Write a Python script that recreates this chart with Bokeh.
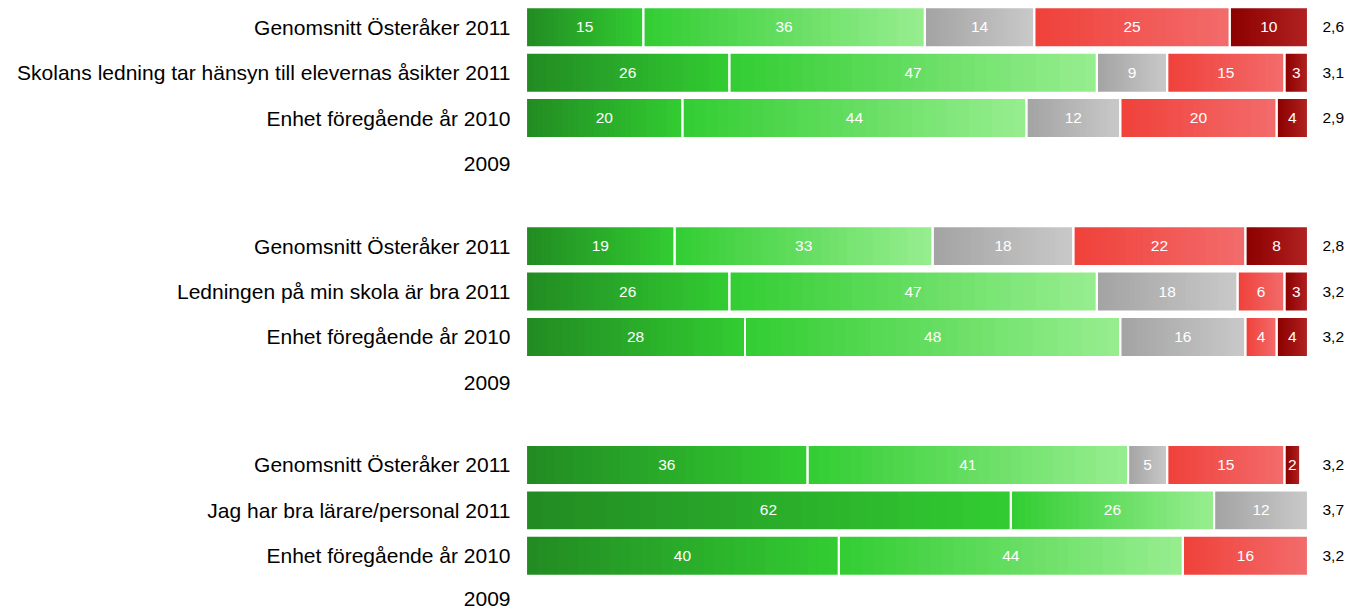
from bokeh.plotting import figure
from bokeh.models import Range1d, FixedTicker, LinearAxis, ColumnDataSource
from bokeh.embed import file_html
from bokeh.resources import INLINE
from bokeh.core.properties import value

# ---- data ----
row_labels = [
    "Genomsnitt Österåker 2011",
    "Skolans ledning tar hänsyn till elevernas åsikter 2011",
    "Enhet föregående år 2010",
    "2009",
    "Genomsnitt Österåker 2011",
    "Ledningen på min skola är bra 2011",
    "Enhet föregående år 2010",
    "2009",
    "Genomsnitt Österåker 2011",
    "Jag har bra lärare/personal 2011",
    "Enhet föregående år 2010",
    "2009",
]
very_positive = [15, 26, 20, 0, 19, 26, 28, 0, 36, 62, 40, 0]
positive = [36, 47, 44, 0, 33, 47, 48, 0, 41, 26, 44, 0]
neutral = [14, 9, 12, 0, 18, 18, 16, 0, 5, 12, 0, 0]
negative = [25, 15, 20, 0, 22, 6, 4, 0, 15, 0, 16, 0]
very_negative = [10, 3, 4, 0, 8, 3, 4, 0, 2, 0, 0, 0]
means = ["2,6", "3,1", "2,9", "", "2,8", "3,2", "3,2", "", "3,2", "3,7", "3,2", ""]

series = [very_positive, positive, neutral, negative, very_negative]
gradients = [
    ("#228B22", "#32CD32"),
    ("#32CD32", "#98EE90"),
    ("#A3A3A3", "#C9C9C9"),
    ("#F0413A", "#F26C6C"),
    ("#8B0000", "#B22222"),
]

FONT = "Liberation Sans"
ROW = 100          # units per row
GROUP = 482        # units per group of 4 rows
BAR_H = 88

positions = [(r // 4) * GROUP + (r % 4) * ROW for r in range(len(row_labels))]


def hex2rgb(h):
    return tuple(int(h[i:i + 2], 16) for i in (1, 3, 5))


def lerp(c0, c1, t):
    a, b = hex2rgb(c0), hex2rgb(c1)
    return "#%02x%02x%02x" % tuple(int(round(a[i] + (b[i] - a[i]) * t)) for i in range(3))


N = 30
strips = dict(left=[], right=[], top=[], bottom=[], color=[])
outl = dict(left=[], right=[], top=[], bottom=[])
labs = dict(x=[], y=[], text=[])

for r, y in enumerate(positions):
    x0 = 0.0
    for s, vals in enumerate(series):
        v = vals[r]
        if v <= 0:
            continue
        x1 = x0 + v
        c0, c1 = gradients[s]
        for k in range(N):
            strips["left"].append(x0 + v * k / N)
            strips["right"].append(x1)
            strips["top"].append(y - BAR_H / 2)
            strips["bottom"].append(y + BAR_H / 2)
            strips["color"].append(lerp(c0, c1, (k + 0.5) / N))
        outl["left"].append(x0)
        outl["right"].append(x1)
        outl["top"].append(y - BAR_H / 2)
        outl["bottom"].append(y + BAR_H / 2)
        labs["x"].append((x0 + x1) / 2)
        labs["y"].append(y)
        labs["text"].append(str(v))
        x0 = x1

FW, FH = 785, 609
LEFT, RIGHT = 524, 33
px_per_unit = 0.454
top_unit = -26.8 / px_per_unit
bottom_unit = top_unit + FH / px_per_unit

p = figure(
    frame_width=FW, frame_height=FH,
    x_range=Range1d(-0.2, 100.2),
    y_range=Range1d(bottom_unit, top_unit),
    x_axis_location=None, y_axis_location="left",
    output_backend="svg", toolbar_location=None,
    min_border_left=LEFT, min_border_right=RIGHT,
    min_border_top=0, min_border_bottom=0,
)
p.grid.visible = False
p.outline_line_color = None
p.background_fill_color = "white"

p.quad(left="left", right="right", top="top", bottom="bottom",
       fill_color="color", line_color=None, source=ColumnDataSource(strips))
p.quad(left="left", right="right", top="top", bottom="bottom",
       fill_alpha=0, line_color="white", line_width=2, source=ColumnDataSource(outl))
p.text(x="x", y="y", text="text", source=ColumnDataSource(labs),
       text_align="center", text_baseline="middle", text_color="white",
       text_font=value(FONT), text_font_size="15.5px")

ya = p.yaxis[0]
ya.ticker = FixedTicker(ticks=positions)
ya.major_label_overrides = {pos: lab for pos, lab in zip(positions, row_labels)}
ya.major_tick_line_color = None
ya.minor_tick_line_color = None
ya.major_tick_out = 0
ya.major_tick_in = 0
ya.axis_line_color = None
ya.major_label_text_font = FONT
ya.major_label_text_font_size = "21px"
ya.major_label_text_color = "#000000"
ya.major_label_standoff = 14

mean_pos = [pos for pos, m in zip(positions, means) if m]
ra = LinearAxis(
    ticker=FixedTicker(ticks=mean_pos),
    major_label_overrides={pos: m for pos, m in zip(positions, means) if m},
    major_tick_line_color=None, minor_tick_line_color=None, axis_line_color=None,
    major_tick_out=0, major_tick_in=0,
    major_label_text_font=FONT, major_label_text_font_size="15.5px",
    major_label_text_color="#000000", major_label_standoff=13,
)
p.add_layout(ra, "right")

open("out.html", "w").write(file_html(p, INLINE))
